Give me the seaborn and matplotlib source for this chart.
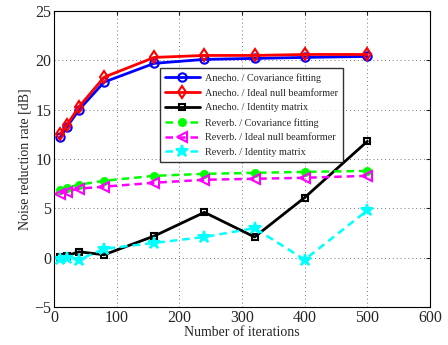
import seaborn as sns
import pandas as pd
import numpy as np
import matplotlib.pyplot as plt

# data
iterations = [10, 20, 40, 80, 160, 240, 320, 400, 500]
anecho_cov = [12.2, 13.2, 15.0, 17.8, 19.7, 20.1, 20.2, 20.3, 20.4]
anecho_ideal = [12.5, 13.4, 15.3, 18.3, 20.3, 20.5, 20.5, 20.6, 20.6]
anecho_ident = [0.1, 0.2, 0.6, 0.3, 2.2, 4.6, 2.1, 6.1, 11.8]
reverb_cov = [6.9, 7.1, 7.4, 7.8, 8.3, 8.5, 8.6, 8.7, 8.8]
reverb_ideal = [6.5, 6.7, 7.0, 7.2, 7.6, 7.9, 8.0, 8.1, 8.3]
reverb_ident = [-0.1, 0.0, -0.2, 0.9, 1.5, 2.1, 3.0, -0.2, 4.8]

labels = ["Anecho. / Covariance fitting", "Anecho. / Ideal null beamformer",
          "Anecho. / Identity matrix", "Reverb. / Covariance fitting",
          "Reverb. / Ideal null beamformer", "Reverb. / Identity matrix"]
series = [anecho_cov, anecho_ideal, anecho_ident, reverb_cov, reverb_ideal, reverb_ident]

# styles: color, marker, linestyle, markersize, filled
styles = [("#0000ff", "o", "-", 6, False),
          ("#ff0000", "d", "-", 6, False),
          ("#000000", "s", "-", 5, False),
          ("#00ff00", "o", (0, (3, 2)), 5, True),
          ("#ff00ff", "<", (0, (3, 2)), 7, False),
          ("#00ffff", "*", (0, (3, 2)), 9, True)]

sns.set_style("white")
plt.rcParams['font.family'] = ['Liberation Serif', 'DejaVu Serif']

fig = plt.figure(figsize=(4.48, 3.45), dpi=100)
ax = fig.add_axes([0.1205, 0.110, 0.8395, 0.858])

for lab, vals, (col, mk, ls, ms, filled) in zip(labels, series, styles):
    df = pd.DataFrame({"x": iterations, "y": vals})
    sns.lineplot(data=df, x="x", y="y", ax=ax, color=col, linestyle=ls,
                 marker=mk, markersize=ms, linewidth=2 if ls == "-" else 1.8,
                 markerfacecolor=col if filled else "none",
                 markeredgecolor=col, markeredgewidth=1.5, label=lab)

ax.set_xlim(0, 600)
ax.set_ylim(-5, 25)
ax.set_xticks(np.arange(0, 601, 100))
ax.set_yticks(np.arange(-5, 26, 5))
ax.tick_params(direction="in", labelsize=11.5, length=3, top=True, right=True, pad=2)
ax.grid(True, linestyle=(0, (1, 3)), color="#777777", linewidth=0.7)
for sp in ax.spines.values():
    sp.set_color("black")
    sp.set_linewidth(0.8)
ax.set_xlabel("Number of iterations", fontsize=10, labelpad=0)
ax.set_ylabel("Noise reduction rate [dB]", fontsize=10, labelpad=2)

leg = ax.legend(loc="upper left", bbox_to_anchor=(0.282, 0.807), fontsize=7.3,
                frameon=True, fancybox=False, borderpad=0.5, labelspacing=0.55,
                handlelength=3.4, handletextpad=0.5, borderaxespad=0)
leg.get_frame().set_edgecolor("black")
leg.get_frame().set_linewidth(1.0)

fig.savefig("out.png", dpi=100)
